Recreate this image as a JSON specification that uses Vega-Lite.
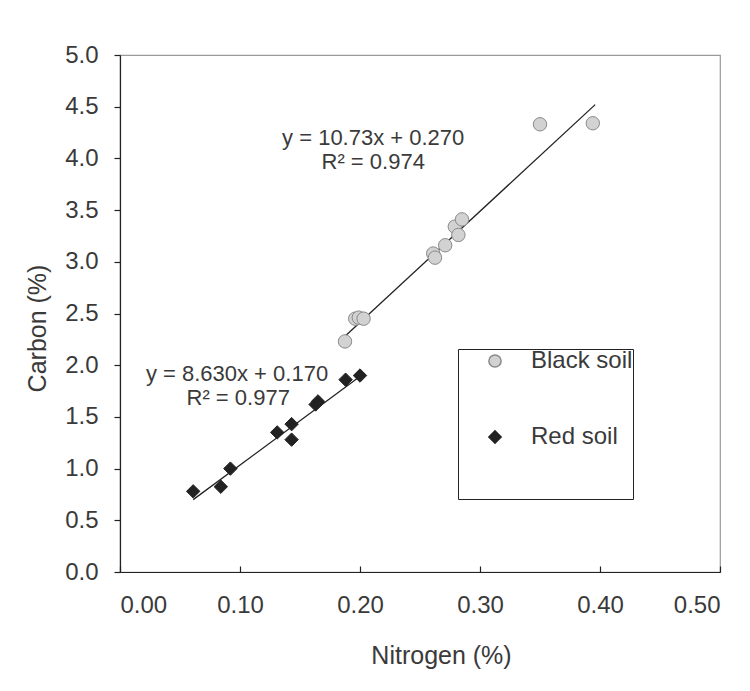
{
  "$schema": "https://vega.github.io/schema/vega-lite/v6.json",
  "width": 600,
  "height": 517,
  "autosize": {"type": "none"},
  "padding": {"left": 120, "top": 55, "right": 30, "bottom": 119},
  "background": "white",
  "config": {
    "font": "Liberation Sans",
    "view": {"stroke": "#9a9a9a", "strokeWidth": 1.2},
    "axis": {"grid": false, "domainColor": "#222", "tickColor": "#222", "labelColor": "#3a3a3a", "titleColor": "#3a3a3a", "labelFont": "Liberation Sans", "titleFont": "Liberation Sans", "titleFontWeight": "normal", "labelFontSize": 24, "titleFontSize": 25, "domainWidth": 1.2, "tickWidth": 1.2}
  },
  "datasets": {
    "points": [
      {"soil": "Black soil", "nitrogen": 0.1875, "carbon": 2.23},
      {"soil": "Black soil", "nitrogen": 0.196, "carbon": 2.45},
      {"soil": "Black soil", "nitrogen": 0.199, "carbon": 2.46},
      {"soil": "Black soil", "nitrogen": 0.203, "carbon": 2.45},
      {"soil": "Black soil", "nitrogen": 0.261, "carbon": 3.08},
      {"soil": "Black soil", "nitrogen": 0.2625, "carbon": 3.04},
      {"soil": "Black soil", "nitrogen": 0.271, "carbon": 3.16},
      {"soil": "Black soil", "nitrogen": 0.279, "carbon": 3.34},
      {"soil": "Black soil", "nitrogen": 0.285, "carbon": 3.41},
      {"soil": "Black soil", "nitrogen": 0.282, "carbon": 3.26},
      {"soil": "Black soil", "nitrogen": 0.350, "carbon": 4.33},
      {"soil": "Black soil", "nitrogen": 0.394, "carbon": 4.34},
      {"soil": "Red soil", "nitrogen": 0.061, "carbon": 0.78},
      {"soil": "Red soil", "nitrogen": 0.084, "carbon": 0.825},
      {"soil": "Red soil", "nitrogen": 0.092, "carbon": 1.0},
      {"soil": "Red soil", "nitrogen": 0.131, "carbon": 1.35},
      {"soil": "Red soil", "nitrogen": 0.143, "carbon": 1.43},
      {"soil": "Red soil", "nitrogen": 0.143, "carbon": 1.28},
      {"soil": "Red soil", "nitrogen": 0.163, "carbon": 1.62},
      {"soil": "Red soil", "nitrogen": 0.165, "carbon": 1.65},
      {"soil": "Red soil", "nitrogen": 0.188, "carbon": 1.86},
      {"soil": "Red soil", "nitrogen": 0.200, "carbon": 1.90}
    ],
    "trend": [
      {"soil": "Black soil", "nitrogen": 0.1875, "carbon": 2.28},
      {"soil": "Black soil", "nitrogen": 0.396, "carbon": 4.52},
      {"soil": "Red soil", "nitrogen": 0.061, "carbon": 0.70},
      {"soil": "Red soil", "nitrogen": 0.201, "carbon": 1.90}
    ],
    "labels": [
      {"nitrogen": 0.211, "carbon": 4.20, "label": "y = 10.73x + 0.270"},
      {"nitrogen": 0.211, "carbon": 3.965, "label": "R² = 0.974"},
      {"nitrogen": 0.0975, "carbon": 1.915, "label": "y = 8.630x + 0.170"},
      {"nitrogen": 0.0985, "carbon": 1.68, "label": "R² = 0.977"}
    ]
  },
  "layer": [
    {
      "data": {"name": "trend"},
      "mark": {"type": "line", "color": "#222", "strokeWidth": 1.3},
      "encoding": {
        "x": {"field": "nitrogen", "type": "quantitative"},
        "y": {"field": "carbon", "type": "quantitative"},
        "detail": {"field": "soil"}
      }
    },
    {
      "data": {"name": "points"},
      "mark": {"type": "point", "filled": true, "size": 180, "opacity": 1, "strokeWidth": 1},
      "encoding": {
        "x": {
          "field": "nitrogen", "type": "quantitative",
          "scale": {"domain": [0, 0.5], "nice": false, "zero": true},
          "axis": {"title": "Nitrogen (%)", "values": [0, 0.1, 0.2, 0.3, 0.4, 0.5], "format": ".2f", "tickSize": -6, "labelPadding": 27, "titlePadding": 26, "titleX": 321}
        },
        "y": {
          "field": "carbon", "type": "quantitative",
          "scale": {"domain": [0, 5], "nice": false},
          "axis": {"title": "Carbon (%)", "values": [0, 0.5, 1, 1.5, 2, 2.5, 3, 3.5, 4, 4.5, 5], "format": ".1f", "tickSize": 6, "labelPadding": 16, "titlePadding": 14, "titleY": 273}
        },
        "shape": {
          "field": "soil", "type": "nominal",
          "scale": {"domain": ["Black soil", "Red soil"], "range": ["circle", "diamond"]},
          "legend": {
            "orient": "none", "legendX": 338, "legendY": 294,
            "title": " ", "titleOrient": "bottom", "titleFontSize": 12, "titlePadding": 39,
            "strokeColor": "#222", "padding": 0,
            "labelFontSize": 24, "labelColor": "#3a3a3a", "labelFont": "Liberation Sans",
            "symbolSize": 150, "symbolOffset": 25, "labelOffset": 24,
            "rowPadding": 52
          }
        },
        "fill": {
          "field": "soil", "type": "nominal",
          "scale": {"domain": ["Black soil", "Red soil"], "range": ["#d2d2d2", "#222222"]},
          "legend": null
        },
        "stroke": {
          "field": "soil", "type": "nominal",
          "scale": {"domain": ["Black soil", "Red soil"], "range": ["#8a8a8a", "#222222"]},
          "legend": null
        }
      }
    },
    {
      "data": {"name": "labels"},
      "mark": {"type": "text", "fontSize": 22, "color": "#3a3a3a", "font": "Liberation Sans"},
      "encoding": {
        "x": {"field": "nitrogen", "type": "quantitative"},
        "y": {"field": "carbon", "type": "quantitative"},
        "text": {"field": "label"}
      }
    }
  ]
}
